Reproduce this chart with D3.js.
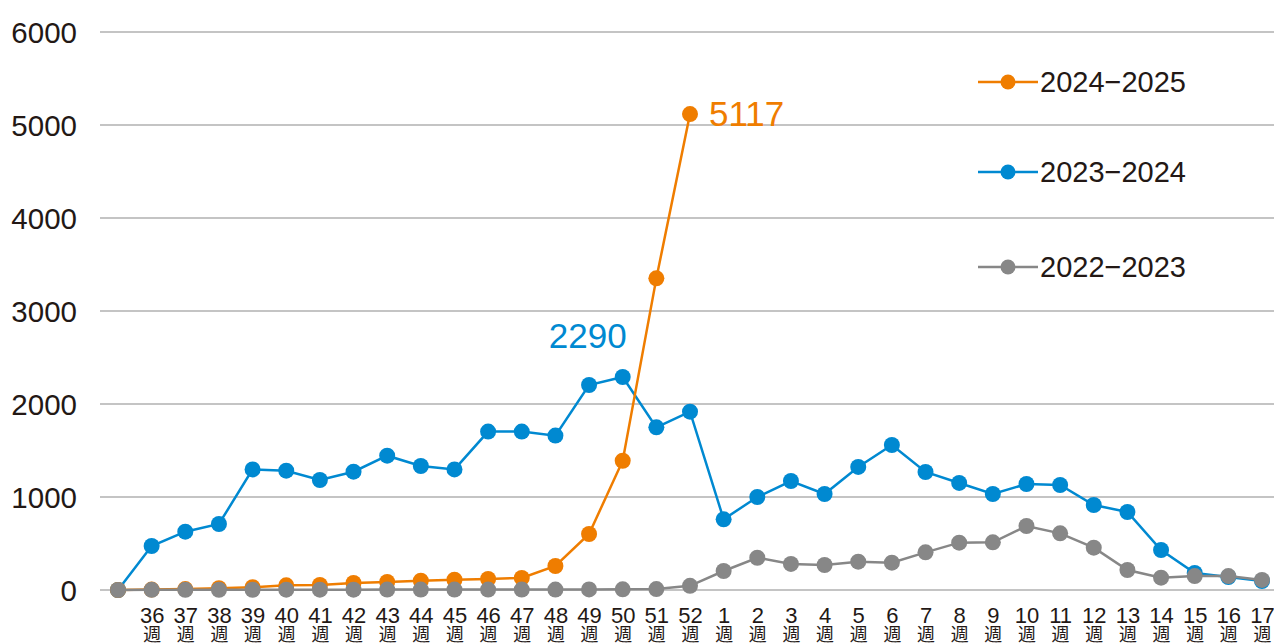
<!DOCTYPE html>
<html>
<head>
<meta charset="utf-8">
<script src="https://cdn.jsdelivr.net/npm/d3@7"></script>
<style>
  html, body { margin: 0; padding: 0; background: #fff; }
  svg { display: block; }
  text { font-family: "Liberation Sans", Arial, "Noto Sans CJK JP", sans-serif; fill: #231815; }
</style>
</head>
<body>
<svg id="chart" width="1274" height="644"></svg>
<script>
const weeks = ["", "36", "37", "38", "39", "40", "41", "42", "43", "44", "45", "46", "47", "48", "49", "50", "51", "52",
  "1", "2", "3", "4", "5", "6", "7", "8", "9", "10", "11", "12", "13", "14", "15", "16", "17"];
const weekSuffix = "週";
const yTicks = [0, 1000, 2000, 3000, 4000, 5000, 6000];

const s2024 = [0, 5, 10, 20, 30, 50, 55, 75, 86, 100, 110, 118, 130, 258, 602, 1390, 3351, 5117];
const s2023 = [0, 473, 627, 710, 1297, 1283, 1183, 1272, 1444, 1333, 1297, 1703, 1703, 1660, 2204, 2290, 1749, 1918,
  760, 1000, 1172, 1032, 1323, 1559, 1269, 1151, 1032, 1140, 1129, 914, 839, 430, 183, 140, 97];
const s2022 = [0, 2, 2, 3, 3, 4, 4, 4, 5, 5, 5, 5, 5, 5, 6, 7, 10, 45,
  204, 347, 280, 269, 305, 294, 405, 509, 513, 688, 609, 455, 215, 133, 150, 150, 108];

const seriesNames = ["2024-2025", "2023-2024", "2022-2023"];
const seriesColors = ["#EF7D00", "#0089D1", "#878787"];
const annotations = [
  { series: 0, index: 17, label: "5117" },
  { series: 1, index: 15, label: "2290" }
];

const svg = d3.select("#chart");
const x = d3.scalePoint().domain(d3.range(weeks.length)).range([118, 1262]);
const y = d3.scaleLinear().domain([0, 6000]).range([590, 32]);

// gridlines
svg.append("g").selectAll("line").data(yTicks).join("line")
  .attr("x1", 100).attr("x2", 1274)
  .attr("y1", d => y(d)).attr("y2", d => y(d))
  .attr("stroke", "#C4C4C4").attr("stroke-width", 2);

// y axis labels
const yAxis = d3.axisLeft(y).tickValues(yTicks).tickSize(0).tickPadding(0).tickFormat(d3.format("d"));
const gy = svg.append("g").attr("transform", "translate(77,0)").call(yAxis);
gy.select(".domain").remove();
gy.selectAll("text").attr("font-size", 29.5).attr("font-family", "'Liberation Sans', Arial, sans-serif")
  .attr("fill", "#231815").attr("dy", "0.35em");

// x axis labels
const xAxis = d3.axisBottom(x).tickSize(0).tickPadding(0).tickFormat(() => "");
const gx = svg.append("g").attr("transform", "translate(0,600)").call(xAxis);
gx.select(".domain").remove();
gx.selectAll(".tick").each(function(d) {
  const t = d3.select(this);
  t.select("text").remove();
  if (weeks[d] === "") return;
  t.append("text").attr("text-anchor", "middle").attr("y", 22.5)
    .attr("font-size", 22).attr("fill", "#231815")
    .attr("font-family", "'Liberation Sans', Arial, sans-serif")
    .text(weeks[d]);
  t.append("text").attr("text-anchor", "middle").attr("y", 41)
    .attr("font-size", 18).attr("fill", "#231815")
    .attr("font-family", "'Noto Sans CJK JP', sans-serif")
    .text(weekSuffix);
});

const allSeries = [s2024, s2023, s2022];
const drawOrder = [1, 0, 2];
const line = d3.line().x((d, i) => x(i)).y(d => y(d));

drawOrder.forEach(si => {
  const g = svg.append("g");
  g.append("path").datum(allSeries[si]).attr("d", line)
    .attr("fill", "none").attr("stroke", seriesColors[si]).attr("stroke-width", 2.5);
  g.selectAll("circle").data(allSeries[si]).join("circle")
    .attr("cx", (d, i) => x(i)).attr("cy", d => y(d)).attr("r", 8)
    .attr("fill", seriesColors[si]);
});

// annotations
const a0 = annotations[0], a1 = annotations[1];
svg.append("text").attr("x", x(a0.index) + 19).attr("y", y(s2024[a0.index]) + 12)
  .attr("font-size", 35).style("fill", seriesColors[a0.series])
  .text(a0.label);
svg.append("text").attr("x", x(a1.index) - 35).attr("y", 348)
  .attr("text-anchor", "middle")
  .attr("font-size", 35).style("fill", seriesColors[a1.series])
  .text(a1.label);

// legend
const legendY = [82, 172, 267];
seriesNames.forEach((name, i) => {
  const g = svg.append("g").attr("transform", `translate(0,${legendY[i]})`);
  g.append("line").attr("x1", 978).attr("x2", 1038).attr("y1", 0).attr("y2", 0)
    .attr("stroke", seriesColors[i]).attr("stroke-width", 2.5);
  g.append("circle").attr("cx", 1008).attr("cy", 0).attr("r", 7.5).attr("fill", seriesColors[i]);
  g.append("text").attr("x", 1040).attr("y", 0).attr("dy", "0.35em")
    .attr("font-size", 29).text(name.replace("-", "\u2212"));
});
</script>
</body>
</html>
